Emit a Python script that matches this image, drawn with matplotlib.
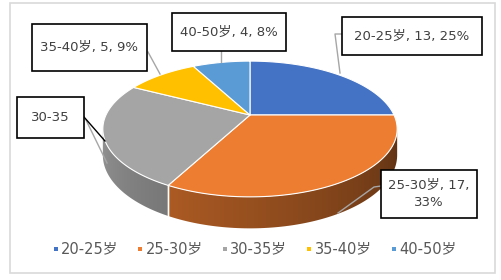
import numpy as np
import matplotlib
matplotlib.use("Agg")
import matplotlib.pyplot as plt
from matplotlib.patches import Polygon, Rectangle

plt.rcParams['font.family'] = ['DejaVu Sans', 'Noto Sans CJK SC']

# data
groups = ["20-25岁", "25-30岁", "30-35岁", "35-40岁", "40-50岁"]
counts = [13, 17, 13, 5, 4]
pcts = [25, 33, 25, 9, 8]
labels = ["20-25岁, 13, 25%", "25-30岁, 17,\n33%", "30-35", "35-40岁, 5, 9%", "40-50岁, 4, 8%"]
colors = ["#4472C4", "#ED7D31", "#A5A5A5", "#FFC000", "#5B9BD5"]

# pie geometry (pixels)
cx, cy = 250, 115
rx, ry = 144, 65
persp = 0.206
depth = 25


def proj(phi, drop=0.0):
    u = np.sin(phi)
    v = -np.cos(phi)
    s = 1.0 / (1.0 - persp * v)
    return cx + rx * u * s, cy + (ry * v + drop) * s


def shade(col, phi):
    k = np.clip(0.38 + 0.0032 * (np.degrees(phi) - 100), 0.3, 0.95)
    rgb = np.array(matplotlib.colors.to_rgb(col))
    return rgb[None, :] * np.asarray(k)[:, None]


fig = plt.figure(figsize=(5.02, 2.8), dpi=100)
ax = fig.add_axes([0, 0, 1, 1])
ax.set_xlim(0, 502)
ax.set_ylim(280, 0)
ax.axis("off")

# chart area border
ax.add_patch(Rectangle((10, 3), 485, 270, fill=False, edgecolor="#D9D9D9", lw=1.2))

fracs = np.array(counts) / sum(counts)
edges = np.concatenate([[0], np.cumsum(fracs)]) * 2 * np.pi

# silhouette points of the rim
phi_sil = np.arccos(-persp)
lo, hi = phi_sil, 2 * np.pi - phi_sil
front = np.linspace(lo, hi, 400)
front_x = np.array([proj(p)[0] for p in front])

# side walls: gradient image clipped to each wall band
for i in range(len(counts)):
    a0, a1 = max(edges[i], lo), min(edges[i + 1], hi)
    if a1 <= a0:
        continue
    ph = np.linspace(a0, a1, 120)
    pts = [proj(p) for p in ph] + [proj(p, depth) for p in ph[::-1]]
    poly = Polygon(pts, closed=True, facecolor="none", edgecolor="none")
    ax.add_patch(poly)
    xs = np.arange(0, 502)
    phis = np.interp(xs, front_x[::-1], front[::-1])
    img = shade(colors[i], phis)[None, :, :]
    im = ax.imshow(img, extent=(0, 502, 280, 0), aspect="auto",
                   interpolation="bilinear", zorder=1)
    im.set_clip_path(poly)
    for b in (edges[i], edges[i + 1]):
        if lo < b < hi:
            x0, y0 = proj(b)
            x1, y1 = proj(b, depth)
            ax.plot([x0, x1], [y0, y1], color="white", lw=1.0, zorder=2)

# top faces
for i in range(len(counts)):
    ph = np.linspace(edges[i], edges[i + 1], 120)
    pts = [(cx, cy)] + [proj(p) for p in ph]
    ax.add_patch(Polygon(pts, closed=True, facecolor=colors[i],
                         edgecolor="white", lw=0.8, joinstyle="round", zorder=3))

# leader lines
lc = "#A6A6A6"
ax.plot([342, 335, 340], [34, 34, 73], color=lc, lw=1.0, zorder=4)
ax.plot([381, 374, 338], [186, 187, 213], color=lc, lw=1.0, zorder=4)
ax.plot([221, 221], [51, 62], color=lc, lw=1.0, zorder=4)
ax.plot([148, 160], [52, 74], color=lc, lw=1.0, zorder=4)
ax.plot([86, 107], [120, 163], color=lc, lw=1.0, zorder=4)
ax.plot([84, 105], [117, 141], color="black", lw=1.0, zorder=4)

# data label boxes
boxes = [(342, 17, 140, 38), (381, 170, 96, 48), (17, 97, 67, 41),
         (32, 24, 115, 47), (172, 13, 114, 38)]
for (bx, by, bw, bh), txt in zip(boxes, labels):
    ax.add_patch(Rectangle((bx, by), bw, bh, facecolor="white",
                           edgecolor="black", lw=1.2, zorder=5))
    ax.text(bx + bw / 2, by + bh / 2, txt, ha="center", va="center",
            fontsize=9.5, color="#404040", linespacing=1.45, zorder=6)

# legend
for i, g in enumerate(groups):
    lx = 56 + i * 84.5
    ax.add_patch(Rectangle((lx - 2, 246.5), 4, 4, facecolor=colors[i], edgecolor="none"))
    ax.text(lx + 5, 249, g, ha="left", va="center", fontsize=10.5, color="#595959")

fig.savefig("out.png", dpi=100)
